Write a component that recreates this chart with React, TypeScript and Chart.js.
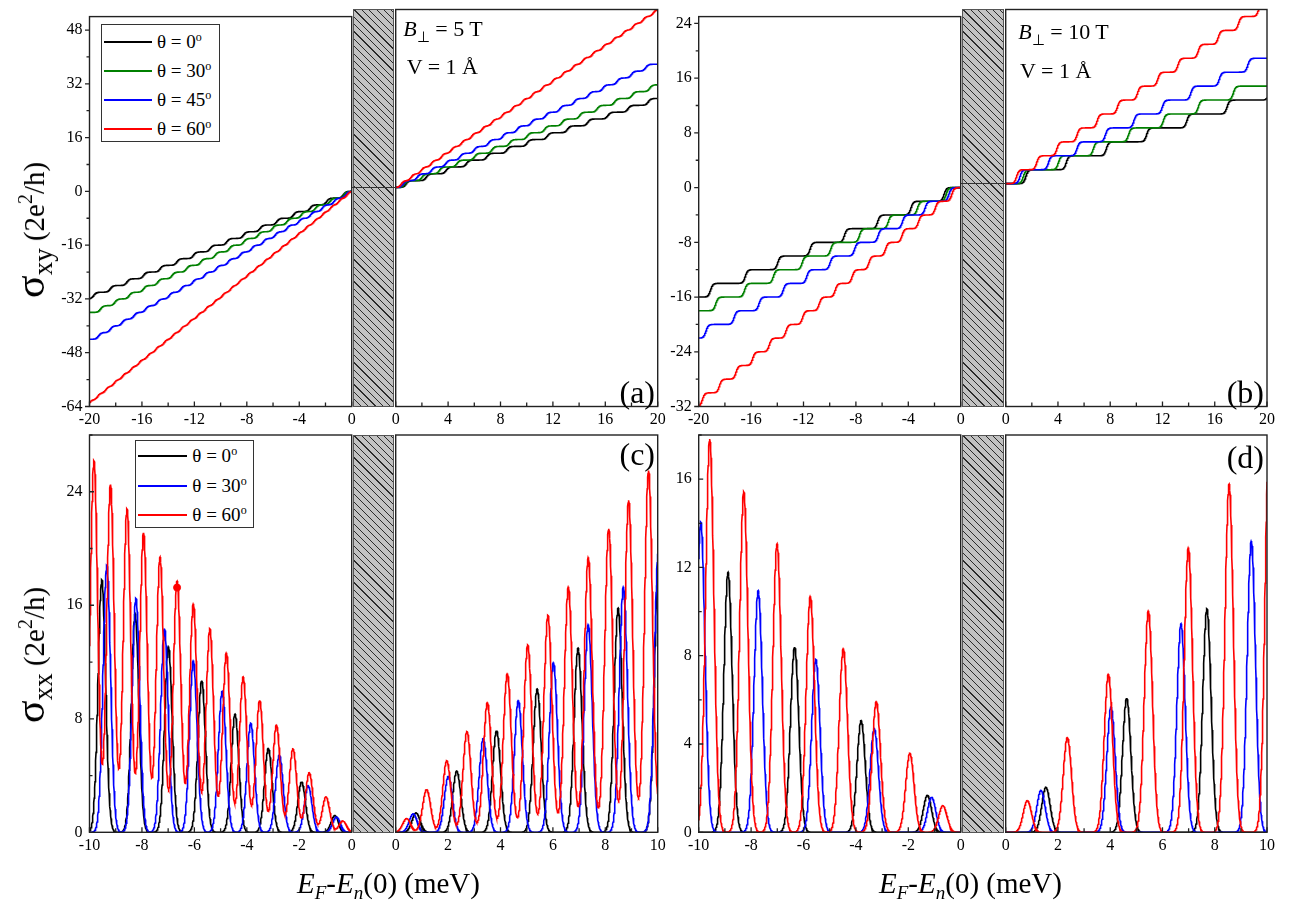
import React, { useEffect, useRef } from "react";
import { Chart, registerables } from "chart.js";
Chart.register(...registerables);

const FONT = "'Liberation Serif', 'Times New Roman', Times, serif";
const PAGE_W = 1289;
const PAGE_H = 902;

// ---------------- data ----------------
// sigma_xy step height (2e^2/h units)
const STEP = 2;

// Panel (a): B = 5 T, step positions (meV)
const A_LEFT_STEPS_0 = [-0.64, -1.91, -3.18, -4.45, -5.72, -6.99, -8.26, -9.53, -10.8, -12.07, -13.34, -14.61, -15.88, -17.15, -18.42, -19.69];
const A_LEFT_STEPS_30 = [-0.58, -1.66, -2.76, -3.85, -4.94, -6.04, -7.14, -8.23, -9.33, -10.42, -11.51, -12.6, -13.7, -14.79, -15.88, -16.98, -18.07, -19.16];
const A_LEFT_STEPS_45 = [-0.45, -1.35, -2.25, -3.14, -4.04, -4.94, -5.84, -6.74, -7.63, -8.53, -9.43, -10.33, -11.23, -12.12, -13.02, -13.92, -14.82, -15.72, -16.61, -17.51, -18.41, -19.31];
const A_LEFT_STEPS_60 = [-0.34, -0.98, -1.62, -2.24, -2.87, -3.51, -4.14, -4.78, -5.41, -6.05, -6.68, -7.32, -7.95, -8.59, -9.22, -9.86, -10.49, -11.13, -11.76, -12.4, -13.03, -13.67, -14.3, -14.94, -15.57, -16.21, -16.84, -17.48, -18.11, -18.75, -19.38, -20.02];
const A_RIGHT_STEPS_0 = [0.78, 2.33, 3.85, 5.4, 6.96, 8.49, 10.03, 11.57, 13.11, 14.65, 16.19, 17.73, 19.27];
const A_RIGHT_STEPS_30 = [0.67, 2.01, 3.34, 4.68, 6.02, 7.35, 8.69, 10.03, 11.37, 12.7, 14.04, 15.38, 16.71, 18.05, 19.39];
const A_RIGHT_STEPS_45 = [0.55, 1.64, 2.73, 3.82, 4.91, 6.0, 7.09, 8.18, 9.27, 10.36, 11.45, 12.54, 13.63, 14.72, 15.81, 16.9, 17.99, 19.08];
const A_RIGHT_STEPS_60 = [0.42, 1.18, 1.95, 2.72, 3.5, 4.26, 5.04, 5.81, 6.59, 7.35, 8.13, 8.89, 9.65, 10.42, 11.19, 11.96, 12.73, 13.5, 14.27, 15.04, 15.81, 16.58, 17.35, 18.12, 18.89, 19.66];

// Panel (b): B = 10 T
const B_LEFT_STEPS_0 = [-1.27, -3.8, -6.34, -8.88, -11.5, -13.97, -16.45, -19.1];
const B_LEFT_STEPS_30 = [-1.11, -3.3, -5.53, -7.73, -9.92, -12.1, -14.3, -16.5, -18.7];
const B_LEFT_STEPS_45 = [-0.9, -2.72, -4.45, -6.3, -8.1, -9.97, -11.75, -13.55, -15.4, -17.3, -19.45];
const B_LEFT_STEPS_60 = [-0.68, -1.94, -3.22, -4.48, -5.74, -7.01, -8.28, -9.58, -10.8, -12.07, -13.34, -14.61, -15.88, -17.15, -18.42, -19.72];
const B_RIGHT_STEPS_0 = [1.54, 4.63, 7.7, 10.78, 13.86, 16.94, 20.15];
const B_RIGHT_STEPS_30 = [1.35, 4.03, 6.71, 9.4, 12.06, 14.74, 17.42];
const B_RIGHT_STEPS_45 = [1.09, 3.27, 5.45, 7.63, 9.81, 11.99, 14.17, 16.35, 18.53];
const B_RIGHT_STEPS_60 = [0.83, 2.37, 3.92, 5.46, 7.0, 8.55, 10.09, 11.64, 13.18, 14.73, 16.27, 17.82, 19.36];

// Panel (c): sigma_xx peaks, B = 5 T (centre meV, height)
const C_LEFT_PEAK_X_0 = [-0.64, -1.91, -3.18, -4.45, -5.72, -6.99, -8.26, -9.53];
const C_LEFT_PEAK_H_0 = [1.18, 3.56, 5.92, 8.33, 10.7, 13.1, 15.4, 17.8];
const C_LEFT_PEAK_X_30 = [-0.58, -1.66, -2.76, -3.85, -4.94, -6.04, -7.14, -8.23, -9.34];
const C_LEFT_PEAK_H_30 = [1.08, 3.28, 5.45, 7.69, 9.93, 12.1, 14.35, 16.5, 18.8];
const C_LEFT_PEAK_X_60 = [-0.34, -0.98, -1.62, -2.24, -2.87, -3.51, -4.14, -4.78, -5.41, -6.04, -6.66, -7.31, -7.94, -8.57, -9.2, -9.83];
const C_LEFT_PEAK_H_60 = [0.8, 2.5, 4.2, 5.88, 7.57, 9.3, 10.95, 12.65, 14.35, 16.1, 17.7, 19.4, 21.1, 22.8, 24.5, 26.2];
const C_RIGHT_PEAK_X_0 = [0.78, 2.33, 3.85, 5.4, 6.96, 8.49, 10.03];
const C_RIGHT_PEAK_H_0 = [1.37, 4.32, 7.17, 10.1, 12.98, 15.8, 18.7];
const C_RIGHT_PEAK_X_30 = [0.67, 2.01, 3.34, 4.68, 6.02, 7.35, 8.69, 10.03];
const C_RIGHT_PEAK_H_30 = [1.3, 3.95, 6.6, 9.3, 11.97, 14.65, 17.3, 20.0];
const C_RIGHT_PEAK_X_60 = [0.42, 1.18, 1.95, 2.72, 3.5, 4.26, 5.04, 5.81, 6.59, 7.35, 8.13, 8.89, 9.65, 10.42];
const C_RIGHT_PEAK_H_60 = [0.97, 3.02, 5.05, 7.1, 9.15, 11.19, 13.2, 15.3, 17.3, 19.38, 21.4, 23.4, 25.5, 27.5];
const C_MARKER_X = [-6.66];
const C_MARKER_Y = [17.25];

// Panel (d): sigma_xx peaks, B = 10 T
const D_LEFT_PEAK_X_0 = [-1.27, -3.8, -6.34, -8.88];
const D_LEFT_PEAK_H_0 = [1.68, 5.06, 8.4, 11.78];
const D_LEFT_PEAK_X_30 = [-1.11, -3.3, -5.53, -7.73, -9.92];
const D_LEFT_PEAK_H_30 = [1.59, 4.7, 7.84, 10.95, 14.06];
const D_LEFT_PEAK_X_60 = [-0.68, -1.94, -3.22, -4.48, -5.74, -7.01, -8.28, -9.58];
const D_LEFT_PEAK_H_60 = [1.21, 3.58, 5.93, 8.33, 10.7, 13.07, 15.43, 17.82];
const D_RIGHT_PEAK_X_0 = [1.54, 4.63, 7.7];
const D_RIGHT_PEAK_H_0 = [2.04, 6.08, 10.13];
const D_RIGHT_PEAK_X_30 = [1.35, 4.03, 6.71, 9.4];
const D_RIGHT_PEAK_H_30 = [1.9, 5.68, 9.45, 13.2];
const D_RIGHT_PEAK_X_60 = [0.83, 2.36, 3.93, 5.46, 6.99, 8.55, 10.09];
const D_RIGHT_PEAK_H_60 = [1.44, 4.3, 7.17, 10.04, 12.9, 15.78, 18.6];

// broadening read from the plateau rise / peak widths (meV)
const A_STEP_WIDTH = 0.1;
const B_STEP_WIDTH = 0.09;
const C_LEFT_SIGMA = 0.145;
const C_RIGHT_SIGMA = 0.155;
const D_SIGMA = 0.16;

const LEGEND_AB = ["θ = 0", "θ = 30", "θ = 45", "θ = 60"];
const LEGEND_CD = ["θ = 0", "θ = 30", "θ = 60"];

const C_BLACK = "#000000";
const C_GREEN = "#008000";
const C_BLUE = "#0000ff";
const C_RED = "#ff0000";

// ---------------- curve builders ----------------
function sampleGrid(min: number, max: number, step: number): number[] {
  const out: number[] = [];
  const n = Math.round((max - min) / step);
  for (let i = 0; i <= n; i++) out.push(+(min + i * step).toFixed(4));
  return out;
}
const logistic = (t: number) => 1 / (1 + Math.exp(-t));
function stairs(steps: number[], side: "neg" | "pos", width: number, xs: number[]) {
  return xs.map((x) => {
    let y = 0;
    for (const s of steps) {
      y += side === "neg" ? -STEP * logistic((s - x) / width) : STEP * logistic((x - s) / width);
    }
    return { x, y };
  });
}
function peaks(cs: number[], hs: number[], sigma: number, xs: number[]) {
  return xs.map((x) => {
    let y = 0;
    for (let i = 0; i < cs.length; i++) {
      const d = x - cs[i];
      y += hs[i] * Math.exp(-(d * d) / (2 * sigma * sigma));
    }
    return { x, y };
  });
}

type Pt = { x: number; y: number };
type Sub = {
  l: number; r: number; t: number; b: number;
  xMin: number; xMax: number; xStep: number; xMajor: number;
  yMin: number; yMax: number; yStep: number; yMajor: number;
  showY: boolean; yTickDir: "out" | "in" | "none";
  series: { color: string; data: Pt[] }[];
  markers?: Pt[];
};

const ROW1 = { t: 9.5, b: 406.5 };
const ROW2 = { t: 435, b: 832.3 };
const COL = {
  L1: [89.5, 351.7],
  R1: [395.7, 657.7],
  L2: [698.7, 960.7],
  R2: [1005.7, 1267],
};

function buildSubs(): Sub[] {
  const xTL = sampleGrid(-20, 0, 0.02);
  const xTR = sampleGrid(0, 20, 0.02);
  const xBL = sampleGrid(-10, 0, 0.01);
  const xBR = sampleGrid(0, 10, 0.01);
  const top = (l: number, r: number, xMin: number, xMax: number, yMin: number, yMax: number, yStep: number, yMajor: number, showY: boolean, series: any[]): Sub => ({
    l, r, t: ROW1.t, b: ROW1.b, xMin, xMax, xStep: 2, xMajor: 4, yMin, yMax, yStep, yMajor, showY, yTickDir: showY ? "out" : "none", series,
  });
  const bot = (l: number, r: number, xMin: number, xMax: number, yMin: number, yMax: number, yStep: number, yMajor: number, showY: boolean, series: any[], markers?: Pt[]): Sub => ({
    l, r, t: ROW2.t, b: ROW2.b, xMin, xMax, xStep: 1, xMajor: 2, yMin, yMax, yStep, yMajor, showY, yTickDir: showY ? "in" : "none", series, markers,
  });
  return [
    top(COL.L1[0], COL.L1[1], -20, 0, -64, 52, 8, 16, true, [
      { color: C_BLACK, data: stairs(A_LEFT_STEPS_0, "neg", A_STEP_WIDTH, xTL) },
      { color: C_GREEN, data: stairs(A_LEFT_STEPS_30, "neg", A_STEP_WIDTH, xTL) },
      { color: C_BLUE, data: stairs(A_LEFT_STEPS_45, "neg", A_STEP_WIDTH, xTL) },
      { color: C_RED, data: stairs(A_LEFT_STEPS_60, "neg", A_STEP_WIDTH, xTL) },
    ]),
    top(COL.R1[0], COL.R1[1], 0, 20, -64, 52, 8, 16, false, [
      { color: C_BLACK, data: stairs(A_RIGHT_STEPS_0, "pos", A_STEP_WIDTH, xTR) },
      { color: C_GREEN, data: stairs(A_RIGHT_STEPS_30, "pos", A_STEP_WIDTH, xTR) },
      { color: C_BLUE, data: stairs(A_RIGHT_STEPS_45, "pos", A_STEP_WIDTH, xTR) },
      { color: C_RED, data: stairs(A_RIGHT_STEPS_60, "pos", A_STEP_WIDTH, xTR) },
    ]),
    top(COL.L2[0], COL.L2[1], -20, 0, -32, 25, 4, 8, true, [
      { color: C_BLACK, data: stairs(B_LEFT_STEPS_0, "neg", B_STEP_WIDTH, xTL) },
      { color: C_GREEN, data: stairs(B_LEFT_STEPS_30, "neg", B_STEP_WIDTH, xTL) },
      { color: C_BLUE, data: stairs(B_LEFT_STEPS_45, "neg", B_STEP_WIDTH, xTL) },
      { color: C_RED, data: stairs(B_LEFT_STEPS_60, "neg", B_STEP_WIDTH, xTL) },
    ]),
    top(COL.R2[0], COL.R2[1], 0, 20, -32, 25, 4, 8, false, [
      { color: C_BLACK, data: stairs(B_RIGHT_STEPS_0, "pos", B_STEP_WIDTH, xTR) },
      { color: C_GREEN, data: stairs(B_RIGHT_STEPS_30, "pos", B_STEP_WIDTH, xTR) },
      { color: C_BLUE, data: stairs(B_RIGHT_STEPS_45, "pos", B_STEP_WIDTH, xTR) },
      { color: C_RED, data: stairs(B_RIGHT_STEPS_60, "pos", B_STEP_WIDTH, xTR) },
    ]),
    bot(COL.L1[0], COL.L1[1], -10, 0, 0, 28, 4, 8, true, [
      { color: C_BLACK, data: peaks(C_LEFT_PEAK_X_0, C_LEFT_PEAK_H_0, C_LEFT_SIGMA, xBL) },
      { color: C_BLUE, data: peaks(C_LEFT_PEAK_X_30, C_LEFT_PEAK_H_30, C_LEFT_SIGMA, xBL) },
      { color: C_RED, data: peaks(C_LEFT_PEAK_X_60, C_LEFT_PEAK_H_60, C_LEFT_SIGMA, xBL) },
    ], C_MARKER_X.map((x, i) => ({ x, y: C_MARKER_Y[i] }))),
    bot(COL.R1[0], COL.R1[1], 0, 10, 0, 28, 4, 8, false, [
      { color: C_BLACK, data: peaks(C_RIGHT_PEAK_X_0, C_RIGHT_PEAK_H_0, C_RIGHT_SIGMA, xBR) },
      { color: C_BLUE, data: peaks(C_RIGHT_PEAK_X_30, C_RIGHT_PEAK_H_30, C_RIGHT_SIGMA, xBR) },
      { color: C_RED, data: peaks(C_RIGHT_PEAK_X_60, C_RIGHT_PEAK_H_60, C_RIGHT_SIGMA, xBR) },
    ]),
    bot(COL.L2[0], COL.L2[1], -10, 0, 0, 18, 2, 4, true, [
      { color: C_BLACK, data: peaks(D_LEFT_PEAK_X_0, D_LEFT_PEAK_H_0, D_SIGMA, xBL) },
      { color: C_BLUE, data: peaks(D_LEFT_PEAK_X_30, D_LEFT_PEAK_H_30, D_SIGMA, xBL) },
      { color: C_RED, data: peaks(D_LEFT_PEAK_X_60, D_LEFT_PEAK_H_60, D_SIGMA, xBL) },
    ]),
    bot(COL.R2[0], COL.R2[1], 0, 10, 0, 18, 2, 4, false, [
      { color: C_BLACK, data: peaks(D_RIGHT_PEAK_X_0, D_RIGHT_PEAK_H_0, D_SIGMA, xBR) },
      { color: C_BLUE, data: peaks(D_RIGHT_PEAK_X_30, D_RIGHT_PEAK_H_30, D_SIGMA, xBR) },
      { color: C_RED, data: peaks(D_RIGHT_PEAK_X_60, D_RIGHT_PEAK_H_60, D_SIGMA, xBR) },
    ]),
  ];
}

const isMult = (v: number, m: number) => Math.abs(v / m - Math.round(v / m)) < 1e-6;

const framePlugin = {
  id: "frame",
  afterDraw(chart: any, _args: any, opts: any) {
    const { ctx, chartArea: a, scales } = chart;
    ctx.save();
    ctx.strokeStyle = "#222";
    ctx.lineWidth = 1.3;
    ctx.beginPath();
    const xs = scales.x;
    for (const t of xs.ticks) {
      const px = xs.getPixelForValue(t.value);
      const len = isMult(t.value, opts.xMajor) ? 5 : 4;
      ctx.moveTo(px, a.bottom);
      ctx.lineTo(px, a.bottom - len);
    }
    if (opts.yTickDir !== "none") {
      const ys = scales.y;
      for (const t of ys.ticks) {
        const py = ys.getPixelForValue(t.value);
        const len = isMult(t.value, opts.yMajor) ? 4.5 : 3;
        ctx.moveTo(a.left, py);
        ctx.lineTo(opts.yTickDir === "out" ? a.left - len : a.left + len, py);
      }
    }
    ctx.stroke();
    ctx.lineWidth = 1.4;
    ctx.strokeRect(a.left, a.top, a.right - a.left, a.bottom - a.top);
    ctx.restore();
  },
};

const YW = 60;
const XH = 34;

function makeChart(canvas: HTMLCanvasElement, s: Sub) {
  const n = s.series.length;
  const datasets: any[] = s.series.map((se, i) => ({
    data: se.data,
    borderColor: se.color,
    backgroundColor: se.color,
    borderWidth: 1.6,
    pointRadius: 0,
    fill: false,
    tension: 0,
    order: n - i + 1,
  }));
  if (s.markers) {
    datasets.push({
      data: s.markers,
      showLine: false,
      pointRadius: 3.5,
      pointBackgroundColor: C_RED,
      pointBorderColor: C_RED,
      borderColor: C_RED,
      order: 0,
    });
  }
  const tickFont = { family: FONT, size: 16 };
  return new Chart(canvas, {
    type: "line",
    data: { datasets },
    plugins: [framePlugin],
    options: {
      animation: false,
      responsive: false,
      maintainAspectRatio: false,
      events: [],
      parsing: false,
      layout: {
        padding: { left: s.l - YW, top: s.t, right: PAGE_W - s.r, bottom: PAGE_H - s.b - XH },
      },
      plugins: {
        legend: { display: false },
        tooltip: { enabled: false },
        frame: { xMajor: s.xMajor, yMajor: s.yMajor, yTickDir: s.yTickDir },
      } as any,
      scales: {
        x: {
          type: "linear",
          min: s.xMin,
          max: s.xMax,
          afterFit: (sc: any) => { sc.height = XH; },
          border: { display: false },
          grid: { display: false, drawTicks: false },
          ticks: {
            stepSize: s.xStep,
            includeBounds: false,
            autoSkip: false,
            maxRotation: 0,
            padding: 4,
            color: "#000",
            font: tickFont,
            callback: (v: any) => (isMult(Number(v), s.xMajor) ? String(Math.round(Number(v))) : ""),
          },
        },
        y: {
          type: "linear",
          min: s.yMin,
          max: s.yMax,
          afterFit: (sc: any) => { sc.width = YW; },
          border: { display: false },
          grid: { display: false, drawTicks: false },
          ticks: {
            display: s.showY,
            stepSize: s.yStep,
            includeBounds: false,
            autoSkip: false,
            padding: 7,
            color: "#000",
            font: tickFont,
            callback: (v: any) => (isMult(Number(v), s.yMajor) ? String(Math.round(Number(v))) : ""),
          },
        },
      },
    } as any,
  });
}

const abs = (o: React.CSSProperties): React.CSSProperties => ({ position: "absolute", ...o });

function Hatch({ left, right, top, bottom }: { left: number; right: number; top: number; bottom: number }) {
  return (
    <div
      style={abs({
        left, top, width: right - left, height: bottom - top, boxSizing: "border-box",
        border: "1.5px solid #555",
        background: "repeating-linear-gradient(45deg, #c2c2c2 0px, #c2c2c2 4.4px, #2a2a2a 4.4px, #2a2a2a 5.2px)",
      })}
    />
  );
}

function Legend({ left, top, width, height, lineX0, lineX1, textX, rows, labels, colors }: any) {
  return (
    <>
      <div style={abs({ left, top, width, height, boxSizing: "border-box", border: "1.2px solid #333", background: "#fff" })} />
      {labels.map((lab: string, i: number) => (
        <React.Fragment key={i}>
          <div style={abs({ left: lineX0, top: rows[i] - 1, width: lineX1 - lineX0, height: 2, background: colors[i] })} />
          <div style={abs({ left: textX, top: rows[i] - 11, height: 22, lineHeight: "22px", fontSize: 19, whiteSpace: "nowrap" })}>
            {lab}
            <sup style={{ fontSize: 12, verticalAlign: "0.55em", lineHeight: 0 }}>o</sup>
          </div>
        </React.Fragment>
      ))}
    </>
  );
}

function Txt({ left, baseline, size, children, right }: any) {
  const st: React.CSSProperties = { top: baseline - 0.84 * size, fontSize: size, lineHeight: 1, whiteSpace: "nowrap" };
  if (right !== undefined) st.right = PAGE_W - right; else st.left = left;
  return <div style={abs(st)}>{children}</div>;
}

function YTitle({ cx, cy, sub }: { cx: number; cy: number; sub: string }) {
  return (
    <div style={abs({ left: cx, top: cy, transform: "translate(-50%, -50%) rotate(-90deg)", whiteSpace: "nowrap", fontSize: 29, lineHeight: 1 })}>
      <span style={{ fontSize: 42 }}>σ</span>
      <sub style={{ fontSize: 27, verticalAlign: "-0.3em", lineHeight: 0 }}>{sub}</sub>
      <span> (2e</span>
      <sup style={{ fontSize: 20, verticalAlign: "0.6em", lineHeight: 0 }}>2</sup>
      <span>/h)</span>
    </div>
  );
}

function XTitle({ left, baseline }: { left: number; baseline: number }) {
  const size = 29;
  return (
    <Txt left={left} baseline={baseline} size={size}>
      <i>E</i>
      <sub style={{ fontSize: 19, verticalAlign: "-0.3em", lineHeight: 0 }}><i>F</i></sub>
      -<i>E</i>
      <sub style={{ fontSize: 19, verticalAlign: "-0.3em", lineHeight: 0 }}><i>n</i></sub>
      (0) (meV)
    </Txt>
  );
}

function Bfield({ left, baseline, value }: { left: number; baseline: number; value: string }) {
  return (
    <Txt left={left} baseline={baseline} size={22}>
      <i>B</i>
      <sub style={{ fontSize: 15, verticalAlign: "-0.4em", lineHeight: 0 }}>⊥</sub>
      {" = " + value}
    </Txt>
  );
}

export default function App() {
  const refs = useRef<(HTMLCanvasElement | null)[]>([]);
  useEffect(() => {
    document.body.style.margin = "0";
    const subs = buildSubs();
    const charts = subs.map((s, i) => makeChart(refs.current[i] as HTMLCanvasElement, s));
    return () => charts.forEach((c) => c.destroy());
  }, []);

  const zeroA = ROW1.t + (52 / 116) * (ROW1.b - ROW1.t);
  const zeroB = ROW1.t + (25 / 57) * (ROW1.b - ROW1.t);

  return (
    <div style={{ position: "relative", width: PAGE_W, height: PAGE_H, fontFamily: FONT, color: "#000", background: "#fff", overflow: "hidden" }}>
      {Array.from({ length: 8 }).map((_, i) => (
        <canvas
          key={i}
          ref={(el) => { refs.current[i] = el; }}
          width={PAGE_W}
          height={PAGE_H}
          style={abs({ left: 0, top: 0, width: PAGE_W, height: PAGE_H })}
        />
      ))}

      <Hatch left={353} right={394} top={9} bottom={407} />
      <Hatch left={962.3} right={1003.6} top={9} bottom={407} />
      <Hatch left={353} right={394} top={434.5} bottom={832.8} />
      <Hatch left={962.3} right={1003.6} top={434.5} bottom={832.8} />
      <div style={abs({ left: 351.7, top: zeroA - 0.75, width: 44, height: 1.5, background: "#333" })} />
      <div style={abs({ left: 960.7, top: zeroB - 0.75, width: 45, height: 1.5, background: "#333" })} />

      <Legend left={101} top={24.3} width={119} height={118} lineX0={104} lineX1={152} textX={157}
        rows={[41.7, 71, 100, 129.3]} labels={LEGEND_AB} colors={[C_BLACK, C_GREEN, C_BLUE, C_RED]} />
      <Legend left={135} top={440} width={119} height={88} lineX0={137.7} lineX1={186.7} textX={192.3}
        rows={[456, 485.7, 514.7]} labels={LEGEND_CD} colors={[C_BLACK, C_BLUE, C_RED]} />

      <Bfield left={403.3} baseline={36.5} value="5 T" />
      <Txt left={406.7} baseline={74} size={22}>V = 1 Å</Txt>
      <Bfield left={1018.3} baseline={39.5} value="10 T" />
      <Txt left={1020} baseline={78} size={22}>V = 1 Å</Txt>

      <Txt right={655} baseline={403} size={32}>(a)</Txt>
      <Txt right={1264} baseline={403} size={32}>(b)</Txt>
      <Txt right={655} baseline={464.6} size={32}>(c)</Txt>
      <Txt right={1264} baseline={468} size={32}>(d)</Txt>

      <YTitle cx={30} cy={230} sub="xy" />
      <YTitle cx={30} cy={655} sub="xx" />
      <XTitle left={297} baseline={893} />
      <XTitle left={879} baseline={893} />
    </div>
  );
}
